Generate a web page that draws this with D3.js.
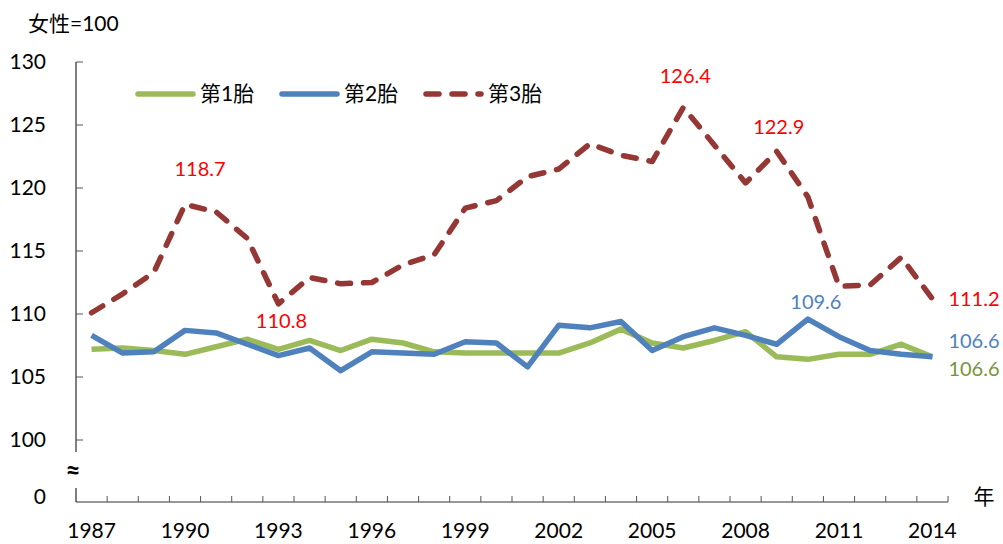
<!DOCTYPE html>
<html><head><meta charset="utf-8">
<script src="https://cdn.jsdelivr.net/npm/d3@7"></script>
<style>
body{margin:0;background:#fff;}
text{font-family:Lato,"Noto Sans CJK SC",sans-serif;}
</style></head>
<body><svg id="c" width="1003" height="544"></svg>
<script>
const years = d3.range(1987, 2015);
const yearLabels = [1987,1990,1993,1996,1999,2002,2005,2008,2011,2014];
const yTicks = [100,105,110,115,120,125,130];
const seriesNames = ["第1胎","第2胎","第3胎"];
const first = [107.2,107.3,107.1,106.8,107.4,108.0,107.2,107.9,107.1,108.0,107.7,107.0,106.9,106.9,106.9,106.9,107.7,108.8,107.7,107.3,107.9,108.6,106.6,106.4,106.8,106.8,107.6,106.6];
const second = [108.3,106.9,107.0,108.7,108.5,107.6,106.7,107.3,105.5,107.0,106.9,106.8,107.8,107.7,105.8,109.1,108.9,109.4,107.1,108.2,108.9,108.3,107.6,109.6,108.2,107.1,106.8,106.6];
const third = [110.1,111.6,113.3,118.7,118.1,116.0,110.8,112.9,112.4,112.5,113.9,114.7,118.4,119.0,120.9,121.5,123.5,122.6,122.1,126.4,123.4,120.4,122.9,119.3,112.2,112.3,114.5,111.2];
const annotations = [
  {s:2, year:1990, text:"118.7", dx:15, dy:-35, anchor:"middle"},
  {s:2, year:1993, text:"110.8", dx:3, dy:17, anchor:"middle"},
  {s:2, year:2006, text:"126.4", dx:2, dy:-31, anchor:"middle"},
  {s:2, year:2009, text:"122.9", dx:2, dy:-24, anchor:"middle"},
  {s:2, year:2014, text:"111.2", dx:16, dy:0, anchor:"start"},
  {s:1, year:2010, text:"109.6", dx:8, dy:-17, anchor:"middle"},
  {s:1, year:2014, text:"106.6", dx:16, dy:-16, anchor:"start"},
  {s:0, year:2014, text:"106.6", dx:16, dy:12, anchor:"start"}
];

const colors = ["#9BBB59","#4F81BD","#953735"];
const labelColors = ["#77933C","#4F81BD","#FF0000"];
const data = [first, second, third];

const svg = d3.select("#c");
const x = d3.scaleBand().domain(years).range([76, 948]);
const xc = yr => x(yr) + x.bandwidth()/2;
const y = d3.scaleLinear().domain([100,130]).range([440,62]);
const zeroY = 502;

// y axis
svg.append("line").attr("x1",76).attr("x2",76).attr("y1",y(130)).attr("y2",452).attr("stroke","#000").attr("stroke-width",1);
svg.append("line").attr("x1",76).attr("x2",76).attr("y1",488).attr("y2",zeroY).attr("stroke","#000").attr("stroke-width",1);
svg.selectAll(".yt").data(yTicks).enter().append("line")
  .attr("x1",76).attr("x2",83).attr("y1",d=>y(d)).attr("y2",d=>y(d)).attr("stroke","#555");
svg.selectAll(".yl").data(yTicks).enter().append("text")
  .attr("x",46).attr("y",d=>y(d)).attr("dy","0.35em").attr("text-anchor","end")
  .attr("font-size",21).attr("fill","#000").text(d=>d);
svg.append("text").attr("x",46).attr("y",zeroY-5).attr("dy","0.35em").attr("text-anchor","end").attr("font-size",21).text("0");
svg.append("text").attr("x",73).attr("y",471).attr("dy","0.35em").attr("text-anchor","middle").attr("font-size",26).attr("font-weight","bold").attr("font-family","DejaVu Sans").text("≈");

// x axis
svg.append("line").attr("x1",76).attr("x2",948).attr("y1",zeroY).attr("y2",zeroY).attr("stroke","#333").attr("stroke-width",1);
const bounds = years.map(yr=>x(yr)).concat([948]);
svg.selectAll(".xt").data(bounds.slice(1)).enter().append("line")
  .attr("x1",d=>d).attr("x2",d=>d).attr("y1",zeroY).attr("y2",zeroY-6).attr("stroke","#555");
svg.selectAll(".xl").data(yearLabels).enter().append("text")
  .attr("x",d=>xc(d)).attr("y",531).attr("dy","0.35em").attr("text-anchor","middle")
  .attr("font-size",21).attr("fill","#000").text(d=>d);
svg.append("text").attr("x",984).attr("y",497).attr("dy","0.35em").attr("text-anchor","middle").attr("font-size",21).text("年");

// title
svg.append("text").attr("x",28).attr("y",24).attr("dy","0.35em").attr("font-size",21).text("女性=100");

// lines
const line = d3.line().x((d,i)=>xc(years[i])).y(d=>y(d));
data.forEach((vals,k)=>{
  const p = svg.append("path").datum(vals).attr("d",line).attr("fill","none")
    .attr("stroke",colors[k]).attr("stroke-width",5.5).attr("stroke-linejoin","round");
  if(k===2){ p.attr("stroke-dasharray","13,13").attr("stroke-linecap","round"); }
});

// annotations
annotations.forEach(a=>{
  const i = years.indexOf(a.year);
  svg.append("text").attr("x",xc(a.year)+a.dx).attr("y",y(data[a.s][i])+a.dy)
    .attr("dy","0.35em").attr("text-anchor",a.anchor).attr("font-size",20)
    .attr("fill",labelColors[a.s]).text(a.text);
});

// legend
const legX = [138, 282, 426];
seriesNames.forEach((n,k)=>{
  const l = svg.append("line").attr("x1",legX[k]).attr("x2",legX[k]+55).attr("y1",94).attr("y2",94)
    .attr("stroke",colors[k]).attr("stroke-width",5.5).attr("stroke-linecap","round");
  if(k===2) l.attr("stroke-dasharray","13,13");
  svg.append("text").attr("x",legX[k]+62).attr("y",94).attr("dy","0.35em").attr("font-size",21).text(n);
});
</script></body></html>
